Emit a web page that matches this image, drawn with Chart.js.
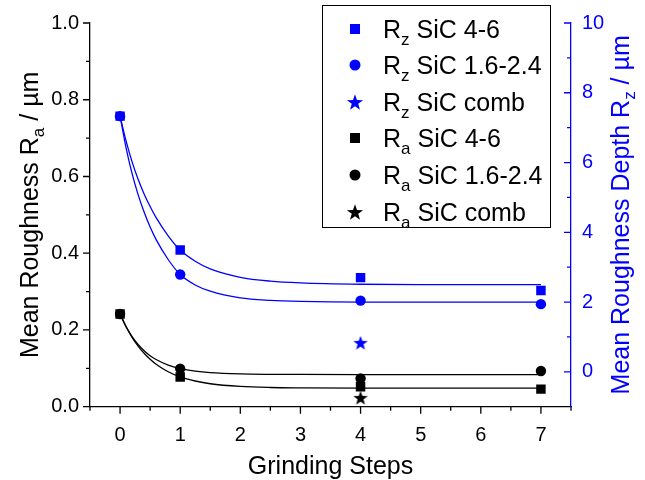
<!DOCTYPE html>
<html><head><meta charset="utf-8">
<script src="https://cdn.jsdelivr.net/npm/chart.js@4/dist/chart.umd.min.js"></script>
<style>html,body{margin:0;padding:0;background:#fff;}#wrap{width:645px;height:480px;}</style>
</head><body><div id="wrap"><canvas id="c" width="645" height="480"></canvas></div>
<script>
// ---- data ----
const steps = [0, 1, 4, 7];
const rzSiC46 = [7.33, 3.49, 2.70, 2.33];
const rzSiC1624 = [7.33, 2.79, 2.04, 1.94];
const combStep = [4];
const rzComb = [0.83];
const raSiC46 = [0.2415, 0.0776, 0.052, 0.0458];
const raSiC1624 = [0.2415, 0.0993, 0.0734, 0.0931];
const raComb = [0.023];
// fitted curves
const fitX = [0, 0.1, 0.2, 0.3, 0.4, 0.5, 0.6, 0.8, 1, 1.25, 1.5, 2, 2.5, 3, 4, 5, 7];
const fitRz46Y = [7.33, 6.62, 6.02, 5.52, 5.10, 4.74, 4.42, 3.90, 3.49, 3.17, 2.95, 2.71, 2.60, 2.55, 2.51, 2.50, 2.50];
const fitRz1624Y = [7.33, 6.42, 5.68, 5.08, 4.58, 4.15, 3.79, 3.22, 2.79, 2.49, 2.31, 2.12, 2.05, 2.02, 2.00, 2.00, 2.00];
const fitRa1624Y = [0.2415, 0.2087, 0.1828, 0.1623, 0.146, 0.133, 0.123, 0.1084, 0.0993, 0.0925, 0.0886, 0.0853, 0.0843, 0.0840, 0.0838, 0.0838, 0.0838];
const fitRa46Y = [0.2415, 0.2083, 0.1809, 0.158, 0.1392, 0.1236, 0.1106, 0.0911, 0.0776, 0.0670, 0.0598, 0.0528, 0.0500, 0.0491, 0.0485, 0.0484, 0.0484];
// ticks
const xTicks = [0, 1, 2, 3, 4, 5, 6, 7];
const xMinor = [-0.5, 0.5, 1.5, 2.5, 3.5, 4.5, 5.5, 6.5, 7.5];
const raTicks = [0, 0.2, 0.4, 0.6, 0.8, 1.0];
const raMinor = [0.1, 0.3, 0.5, 0.7, 0.9];
const rzTicks = [0, 2, 4, 6, 8, 10];
const rzMinor = [1, 3, 5, 7, 9];
const legendItems = [
  {sub: 'z', text: ' SiC 4-6', shape: 'square', color: '#0000ff'},
  {sub: 'z', text: ' SiC 1.6-2.4', shape: 'circle', color: '#0000ff'},
  {sub: 'z', text: ' SiC comb', shape: 'star', color: '#0000ff'},
  {sub: 'a', text: ' SiC 4-6', shape: 'square', color: '#000000'},
  {sub: 'a', text: ' SiC 1.6-2.4', shape: 'circle', color: '#000000'},
  {sub: 'a', text: ' SiC comb', shape: 'star', color: '#000000'}
];

const BLUE = '#0000ff';
const FONT = '"Liberation Sans", Arial, sans-serif';
const pts = (xs, ys) => xs.map((x, i) => ({x: x, y: ys[i]}));

function starPath(ctx, cx, cy, ro, ri) {
  ctx.beginPath();
  for (let i = 0; i < 10; i++) {
    const r = i % 2 ? ri : ro;
    const a = -Math.PI / 2 + i * Math.PI / 5;
    const px = cx + r * Math.cos(a), py = cy + r * Math.sin(a);
    i ? ctx.lineTo(px, py) : ctx.moveTo(px, py);
  }
  ctx.closePath();
}
function starImg(color) {
  const c = document.createElement('canvas');
  c.width = 16; c.height = 16;
  const g = c.getContext('2d');
  g.fillStyle = color;
  starPath(g, 8, 8.6, 7.6, 3.1);
  g.fill();
  return c;
}

function lineDs(xs, ys, color, axis) {
  return {data: pts(xs, ys), yAxisID: axis, showLine: true, borderColor: color, borderWidth: 1.3,
    pointRadius: 0, pointHoverRadius: 0, cubicInterpolationMode: 'monotone', fill: false};
}
function markDs(xs, ys, color, axis, style, r) {
  return {data: pts(xs, ys), yAxisID: axis, showLine: false, pointStyle: style, pointRadius: r,
    pointBackgroundColor: color, pointBorderColor: color, pointBorderWidth: 0};
}

const decor = {
  id: 'decor',
  afterDraw(chart) {
    const ctx = chart.ctx;
    const sx = chart.scales.x, sy = chart.scales.y, sy2 = chart.scales.y2;
    const ca = chart.chartArea;
    ctx.save();
    ctx.lineWidth = 1.3;
    ctx.strokeStyle = '#000';
    ctx.beginPath();
    raTicks.forEach(v => { const y = sy.getPixelForValue(v); ctx.moveTo(ca.left - 7, y); ctx.lineTo(ca.left, y); });
    raMinor.forEach(v => { const y = sy.getPixelForValue(v); ctx.moveTo(ca.left - 4, y); ctx.lineTo(ca.left, y); });
    xTicks.forEach(v => { const x = sx.getPixelForValue(v); ctx.moveTo(x, ca.bottom); ctx.lineTo(x, ca.bottom + 7); });
    xMinor.forEach(v => { const x = sx.getPixelForValue(v); ctx.moveTo(x, ca.bottom); ctx.lineTo(x, ca.bottom + 4); });
    ctx.stroke();
    ctx.strokeStyle = BLUE;
    ctx.beginPath();
    rzTicks.forEach(v => { const y = sy2.getPixelForValue(v); ctx.moveTo(ca.right - 7, y); ctx.lineTo(ca.right, y); });
    rzMinor.forEach(v => { const y = sy2.getPixelForValue(v); ctx.moveTo(ca.right - 4, y); ctx.lineTo(ca.right, y); });
    ctx.stroke();

    function subText(main, sub, rest, size, subSize, subDy) {
      ctx.font = size + 'px ' + FONT;
      const w1 = ctx.measureText(main).width;
      const w3 = ctx.measureText(rest).width;
      ctx.font = subSize + 'px ' + FONT;
      const w2 = ctx.measureText(sub).width;
      return {w: w1 + w2 + w3, draw(x0, y0) {
        ctx.textBaseline = 'alphabetic'; ctx.textAlign = 'left';
        ctx.font = size + 'px ' + FONT; ctx.fillText(main, x0, y0);
        ctx.font = subSize + 'px ' + FONT; ctx.fillText(sub, x0 + w1, y0 + subDy);
        ctx.font = size + 'px ' + FONT; ctx.fillText(rest, x0 + w1 + w2, y0);
      }};
    }
    const midY = (ca.top + ca.bottom) / 2;
    ctx.save();
    ctx.translate(38, midY); ctx.rotate(-Math.PI / 2);
    ctx.fillStyle = '#000';
    let t = subText('Mean Roughness R', 'a', ' / \u00b5m', 25, 17, 6);
    t.draw(-t.w / 2, 0);
    ctx.restore();
    ctx.save();
    ctx.translate(629, midY); ctx.rotate(-Math.PI / 2);
    ctx.fillStyle = BLUE;
    t = subText('Mean Roughness Depth R', 'z', ' / \u00b5m', 25, 17, 6);
    t.draw(-t.w / 2, 0);
    ctx.restore();
    ctx.fillStyle = '#000';
    ctx.font = '25px ' + FONT; ctx.textAlign = 'center'; ctx.textBaseline = 'alphabetic';
    ctx.fillText('Grinding Steps', (ca.left + ca.right) / 2, 474);

    ctx.fillStyle = '#fff';
    ctx.fillRect(322.5, 5.5, 228, 222);
    ctx.strokeStyle = '#000'; ctx.lineWidth = 1;
    ctx.strokeRect(322.5, 5.5, 228, 222);
    const rows = [29, 65, 102, 138, 175, 212];
    legendItems.forEach((it, i) => {
      const yc = rows[i], xc = 355;
      ctx.fillStyle = it.color;
      if (it.shape === 'square') ctx.fillRect(xc - 5, yc - 5, 10, 10);
      else if (it.shape === 'circle') { ctx.beginPath(); ctx.arc(xc, yc, 5.5, 0, Math.PI * 2); ctx.fill(); }
      else { starPath(ctx, xc, yc + 0.8, 8.5, 3.4); ctx.fill(); }
      ctx.fillStyle = '#000';
      const lt = subText('R', it.sub, it.text, 25, 17, 7);
      lt.draw(383, yc + 9);
    });
    ctx.restore();
  }
};

const tickFont = {family: FONT, size: 20};
new Chart(document.getElementById('c'), {
  type: 'scatter',
  data: {
    datasets: [
      lineDs(fitX, fitRz46Y, BLUE, 'y2'),
      lineDs(fitX, fitRz1624Y, BLUE, 'y2'),
      lineDs(fitX, fitRa46Y, '#000', 'y'),
      lineDs(fitX, fitRa1624Y, '#000', 'y'),
      markDs(steps, rzSiC1624, BLUE, 'y2', 'circle', 5.2),
      markDs(steps, rzSiC46, BLUE, 'y2', 'rect', 6.7),
      markDs(steps, raSiC1624, '#000', 'y', 'circle', 5.2),
      markDs(steps, raSiC46, '#000', 'y', 'rect', 6.7),
      markDs(combStep, rzComb, BLUE, 'y2', starImg(BLUE), 8),
      markDs(combStep, raComb, '#000', 'y', starImg('#000'), 8)
    ]
  },
  options: {
    responsive: false, animation: false, devicePixelRatio: 1,
    layout: {padding: {top: 20, left: 0, right: 0, bottom: 0}},
    plugins: {legend: {display: false}, tooltip: {enabled: false}},
    scales: {
      x: {
        type: 'linear', position: 'bottom', min: -0.5, max: 7.5,
        afterBuildTicks: s => { s.ticks = xTicks.map(v => ({value: v})); },
        afterFit: s => { s.height = 73.3; },
        grid: {display: true, drawOnChartArea: false, drawTicks: false},
        border: {display: true, color: '#000', width: 1.3},
        ticks: {font: tickFont, color: '#000', padding: 17, maxRotation: 0, autoSkip: false}
      },
      y: {
        type: 'linear', position: 'left', min: 0, max: 1,
        afterBuildTicks: s => { s.ticks = raTicks.map(v => ({value: v})); },
        afterFit: s => { s.width = 90; },
        grid: {display: true, drawOnChartArea: false, drawTicks: false},
        border: {display: true, color: '#000', width: 1.3},
        ticks: {font: tickFont, color: '#000', padding: 11, callback: v => v.toFixed(1)}
      },
      y2: {
        type: 'linear', position: 'right', min: -1, max: 10,
        afterBuildTicks: s => { s.ticks = rzTicks.map(v => ({value: v})); },
        afterFit: s => { s.width = 74; },
        grid: {display: true, drawOnChartArea: false, drawTicks: false},
        border: {display: true, color: BLUE, width: 1.3},
        ticks: {font: tickFont, color: BLUE, padding: 11, callback: v => String(v)}
      }
    }
  },
  plugins: [decor]
});
</script>
</body></html>
